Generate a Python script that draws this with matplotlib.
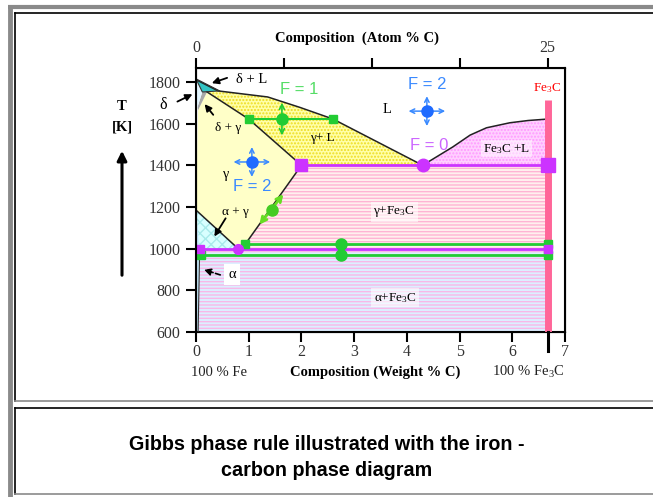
import matplotlib
matplotlib.use('Agg')
import matplotlib.pyplot as plt
from matplotlib.patches import Polygon

plt.rcParams['font.family'] = ['Liberation Serif', 'DejaVu Serif']
plt.rcParams['mathtext.fontset'] = 'custom'
plt.rcParams['mathtext.rm'] = 'Liberation Serif'
plt.rcParams['mathtext.it'] = 'Liberation Serif:italic'
plt.rcParams['mathtext.bf'] = 'Liberation Serif:bold'
plt.rcParams['hatch.linewidth'] = 1.0

# ---------------- data ----------------
x_ticks = [0, 1, 2, 3, 4, 5, 6, 7]
y_ticks = [600, 800, 1000, 1200, 1400, 1600, 1800]
top_ticks = [0, 1.667, 3.333, 5.0, 6.67]
top_tick_labels = ['0', '', '', '', '25']
x_min, x_max, y_min, y_max = 0, 7, 600, 1867

x_fe3c = 6.67
T_eutectic = 1400
T_eutectoid = 1000
T_tie_upper = 1020
T_tie_lower = 970
T_liquid_tie = 1622

liquidus_x = [0.0, 0.42, 1.36, 1.97, 2.6, 4.3]
liquidus_y = [1811, 1757, 1728, 1678, 1622, 1400]
solidus_x = [0.21, 1.0, 2.0]
solidus_y = [1752, 1622, 1400]
acm_x = [2.0, 0.93, 0.8]
acm_y = [1400, 1020, 1000]
a3_x = [0.0, 0.8]
a3_y = [1185, 1000]
fe3c_liq_x = [4.3, 4.87, 5.2, 5.51, 5.95, 6.3, 6.67]
fe3c_liq_y = [1400, 1488, 1545, 1580, 1604, 1615, 1622]

delta_L = [(0.0, 1815), (0.45, 1757), (0.12, 1752)]
delta = [(0.0, 1815), (0.12, 1752), (0.03, 1680), (0.0, 1665)]
delta_gamma = [(0.12, 1752), (0.21, 1752), (0.04, 1665), (0.03, 1680)]
alpha_strip = [(0.0, 600), (0.04, 600), (0.07, 1000), (0.03, 1110), (0.0, 1185)]

fe3c_bar_top = 1715
eutectic_x = 4.3
eutectoid_x = 0.8
tie1_x = [1.0, 1.63, 2.6]
tie_mid_x = 2.75
lower_left_x = 0.1
mid_left_x = 0.08
diag_arrow = [(1.17, 1105), (1.69, 1272)]
diag_dot = (1.44, 1186)
cross_L = (4.38, 1660)
cross_gamma = (1.06, 1416)

# ---------------- figure ----------------
W, H = 653, 497
fig = plt.figure(figsize=(W / 100, H / 100), dpi=100)

# frame overlay (pixel coordinates)
bg = fig.add_axes([0, 0, 1, 1], zorder=0)
bg.set_xlim(0, W)
bg.set_ylim(H, 0)
bg.axis('off')
gray = '#8a8a8a'
bg.plot([8, W], [6.5, 6.5], color=gray, lw=3, solid_capstyle='butt')
bg.plot([10, 10], [5, H], color=gray, lw=3.5, solid_capstyle='butt')
bg.plot([15, W], [13, 13], color='black', lw=1.2)
bg.plot([15, 15], [13, 401], color='black', lw=1.2)
bg.plot([15, W], [401, 401], color=gray, lw=1.2)
bg.plot([15, W], [408, 408], color='black', lw=1.2)
bg.plot([15, 15], [408, 494], color='black', lw=1.2)
bg.plot([15, W], [494, 494], color=gray, lw=1.2)

def P(px, py):
    return px / W, 1 - py / H

# main axes
left, right, top, bottom = 196, 565, 68, 332
ax = fig.add_axes([left / W, 1 - bottom / H, (right - left) / W, (bottom - top) / H], zorder=2)
ax.set_xlim(x_min, x_max)
ax.set_ylim(y_min, y_max)
ax.set_facecolor('white')
for s in ax.spines.values():
    s.set_linewidth(1.5)
ax.set_xticks(x_ticks)
ax.set_yticks(y_ticks)
ax.tick_params(direction='out', length=7, width=1.5, labelsize=11.5, labelcolor='#333333', pad=4)
ax.tick_params(axis='x', pad=2)

ax2 = ax.twiny()
ax2.set_xlim(x_min, x_max)
ax2.set_xticks(top_ticks)
ax2.set_xticklabels(top_tick_labels)
ax2.tick_params(direction='out', length=7, width=1.5, labelsize=11.5, labelcolor='#333333', pad=2)

# ---------------- regions ----------------
def poly(pts, fc, hatch=None, hc=None, z=1):
    p = Polygon(pts, closed=True, facecolor=fc, edgecolor=hc if hc else fc,
                hatch=hatch, lw=0, zorder=z)
    ax.add_patch(p)

# alpha + Fe3C
poly([alpha_strip[1], alpha_strip[2], (x_fe3c, T_eutectoid), (x_fe3c, y_min)],
     '#dcefff', hatch='-----', hc='#f8b8e8')
# alpha strip
poly(alpha_strip, '#c8ecff')
# alpha + gamma
poly([(a3_x[0], a3_y[0]), (a3_x[1], a3_y[1]), alpha_strip[2], alpha_strip[3]],
     '#d8ffff', hatch='xxx', hc='#a8eaea')
# gamma + Fe3C
poly(list(zip(acm_x[::-1], acm_y[::-1])) + [(x_fe3c, T_eutectic), (x_fe3c, T_eutectoid)],
     '#fff0ee', hatch='-----', hc='#ffb4d4')
# gamma
gamma_pts = [delta_gamma[2], delta_gamma[1]] + list(zip(solidus_x[1:], solidus_y[1:])) \
    + list(zip(acm_x[1:], acm_y[1:])) + list(zip(a3_x[::-1], a3_y[::-1]))
poly(gamma_pts, '#ffffc8')
# gamma + L
gl_pts = list(zip(liquidus_x[1:], liquidus_y[1:])) + list(zip(solidus_x[::-1], solidus_y[::-1]))
poly(gl_pts, '#ffffa8', hatch='.....', hc='#eedc20')
# Fe3C + L
poly(list(zip(fe3c_liq_x, fe3c_liq_y)) + [(x_fe3c, T_eutectic)], '#ffd0ff', hatch='.....', hc='#ff99ff')
# delta regions
poly(delta_L, '#33c4c4', z=3)
poly(delta_gamma, '#a8a8a8', z=3)
poly(delta, '#e4f6ff', z=3)

# ---------------- boundaries ----------------
ax.plot(liquidus_x, liquidus_y, color='#222222', lw=1.1, zorder=4)
ax.plot(solidus_x, solidus_y, color='#222222', lw=1.1, zorder=4)
ax.plot(acm_x, acm_y, color='#222222', lw=1.1, zorder=4)
ax.plot(a3_x, a3_y, color='#222222', lw=1.1, zorder=4)
ax.plot(fe3c_liq_x, fe3c_liq_y, color='#222222', lw=1.1, zorder=4)
ax.plot([p[0] for p in delta_L] + [delta_L[0][0]], [p[1] for p in delta_L] + [delta_L[0][1]],
        color='#333333', lw=0.8, zorder=4)
ax.plot([alpha_strip[1][0], alpha_strip[2][0]], [alpha_strip[1][1], alpha_strip[2][1]],
        color='#333333', lw=0.8, zorder=4)

# ---------------- lines / markers ----------------
green = '#22cc33'
mag = '#cc33ff'
ax.plot([tie1_x[0], tie1_x[2]], [T_liquid_tie] * 2, color=green, lw=1.5, zorder=5)
ax.plot([tie1_x[0], tie1_x[2]], [T_liquid_tie] * 2, 's', color=green, ms=6, zorder=6)
ax.plot(tie1_x[1], T_liquid_tie, 'o', color=green, ms=8, zorder=6)
ax.annotate('', xy=(tie1_x[1], T_liquid_tie + 92), xytext=(tie1_x[1], T_liquid_tie - 92),
            arrowprops=dict(arrowstyle='<->', color=green, lw=1.2, mutation_scale=9), zorder=6)

ax.plot([eutectoid_x + 0.13, x_fe3c], [T_tie_upper] * 2, color=green, lw=2, zorder=5)
ax.plot([lower_left_x, x_fe3c], [T_tie_lower] * 2, color=green, lw=2, zorder=5)
ax.plot([mid_left_x, x_fe3c], [T_eutectoid] * 2, color=mag, lw=2, zorder=5)
ax.plot([acm_x[0], x_fe3c], [T_eutectic] * 2, color=mag, lw=2, zorder=5)

# Fe3C bar
ax.plot([x_fe3c, x_fe3c], [y_min, fe3c_bar_top], color='#ff6699', lw=5, solid_capstyle='butt', zorder=5)

ax.plot([eutectoid_x + 0.13, x_fe3c], [T_tie_upper] * 2, 's', color=green, ms=6, zorder=7)
ax.plot([lower_left_x, x_fe3c], [T_tie_lower] * 2, 's', color=green, ms=6, zorder=7)
ax.plot([tie_mid_x, tie_mid_x], [T_tie_upper, T_tie_lower], 'o', color=green, ms=8, zorder=7)
ax.plot([mid_left_x, x_fe3c], [T_eutectoid] * 2, 's', color=mag, ms=6, zorder=7)
ax.plot(eutectoid_x, T_eutectoid, 'o', color=mag, ms=7, zorder=7)
ax.plot(acm_x[0], T_eutectic, 's', color=mag, ms=9, zorder=7)
ax.plot(x_fe3c, T_eutectic, 's', color=mag, ms=10, zorder=7)
ax.plot(eutectic_x, T_eutectic, 'o', color=mag, ms=9, zorder=7)

# diagonal lime arrow
ax.annotate('', xy=diag_arrow[1], xytext=diag_arrow[0],
            arrowprops=dict(arrowstyle='<->', color='#66dd22', lw=2, mutation_scale=10), zorder=6)
ax.plot(*diag_dot, 'o', color='#44cc22', ms=8, zorder=7)

# blue crosses
blue = '#1f6bff'
for cx, cy in (cross_L, cross_gamma):
    ax.annotate('', xy=(cx + 0.4, cy), xytext=(cx - 0.4, cy),
                arrowprops=dict(arrowstyle='<->', color='#3a8aff', lw=1.1, mutation_scale=8), zorder=6)
    ax.annotate('', xy=(cx, cy + 85), xytext=(cx, cy - 85),
                arrowprops=dict(arrowstyle='<->', color='#3a8aff', lw=1.1, mutation_scale=8), zorder=6)
    ax.plot(cx, cy, 'o', color=blue, ms=8, zorder=7)

# ---------------- labels ----------------
sans = ['Liberation Sans', 'DejaVu Sans']
ax.text(1.95, 1762, 'F = 1', color='#55dd66', fontsize=12, family=sans, ha='center', va='center', zorder=8)
ax.text(4.38, 1790, 'F = 2', color='#3a8aff', fontsize=12, family=sans, ha='center', va='center', zorder=8)
ax.text(1.06, 1300, 'F = 2', color='#3a8aff', fontsize=12, family=sans, ha='center', va='center', zorder=8)
ax.text(4.43, 1493, 'F = 0', color='#cc66ff', fontsize=12, family=sans, ha='center', va='center', zorder=8)

fs = 10.5
ax.text(1.06, 1810, 'δ + L', fontsize=fs, ha='center', va='center', zorder=8)
ax.text(3.62, 1666, 'L', fontsize=fs, ha='center', va='center', zorder=8)
ax.text(0.61, 1580, 'δ + γ', fontsize=9.5, ha='center', va='center', zorder=8)
ax.text(2.4, 1531, 'γ+ L', fontsize=9.5, ha='center', va='center', zorder=8)
ax.text(6.67, 1771, r'Fe$_3$C', color='red', fontsize=9.5, ha='center', va='center', zorder=8)
ax.text(5.89, 1479, r'Fe$_3$C +L', fontsize=9.5, ha='center', va='center', zorder=8,
        bbox=dict(facecolor='white', edgecolor='none', alpha=0.5, pad=1))
ax.text(0.57, 1354, 'γ', fontsize=10, ha='center', va='center', zorder=8)
ax.text(3.76, 1176, r'γ+Fe$_3$C', fontsize=9.5, ha='center', va='center', zorder=8,
        bbox=dict(facecolor='white', edgecolor='none', alpha=0.6, pad=2))
ax.text(0.74, 1176, 'α + γ', fontsize=9.5, ha='center', va='center', zorder=8)
ax.text(0.68, 875, 'α', fontsize=10.5, ha='center', va='center', zorder=8,
        bbox=dict(facecolor='white', edgecolor='none', pad=3))
ax.text(3.78, 764, r'α+Fe$_3$C', fontsize=9.5, ha='center', va='center', zorder=8,
        bbox=dict(facecolor='white', edgecolor='none', alpha=0.6, pad=2))
ax.text(-0.625, 1690, 'δ', fontsize=11.5, ha='center', va='center', zorder=8, clip_on=False)

arr = dict(arrowstyle='-|>', color='black', lw=1.3, mutation_scale=10)
ax.annotate('', xy=(0.25, 1790), xytext=(0.64, 1824), arrowprops=arr, zorder=9)
ax.annotate('', xy=(-0.02, 1747), xytext=(-0.4, 1700), arrowprops=arr, zorder=9, annotation_clip=False)
ax.annotate('', xy=(0.13, 1704), xytext=(0.36, 1632), arrowprops=arr, zorder=9)
ax.annotate('', xy=(0.32, 1047), xytext=(0.59, 1157), arrowprops=arr, zorder=9)
ax.annotate('', xy=(0.1, 903), xytext=(0.51, 870),
            arrowprops=dict(arrowstyle='-|>', color='black', lw=1.2, mutation_scale=10, linestyle=(0, (3, 1.5))),
            zorder=9)

# thick tick at Fe3C on bottom axis
ax.plot([x_fe3c, x_fe3c], [y_min, y_min - 90], color='black', lw=2.2, clip_on=False, zorder=9)

# outer texts
fig.text(*P(357, 38), 'Composition  (Atom % C)', fontsize=10.5, weight='bold', ha='center', va='center')
fig.text(*P(219, 372), '100 % Fe', fontsize=10.5, ha='center', va='center', color='#222222')
fig.text(*P(375, 372), 'Composition (Weight % C)', fontsize=10.5, weight='bold', ha='center', va='center')
fig.text(*P(528, 372), r'100 % Fe$_3$C', fontsize=10.5, ha='center', va='center', color='#222222')
fig.text(*P(122, 107), 'T', fontsize=10.5, weight='bold', ha='center', va='center')
fig.text(*P(122, 127), '[K]', fontsize=10.5, weight='bold', ha='center', va='center')
bg.annotate('', xy=(122, 148), xytext=(122, 278),
            arrowprops=dict(arrowstyle='-|>', color='black', lw=2.2, mutation_scale=14))

fig.text(*P(327, 444), 'Gibbs phase rule illustrated with the iron -', fontsize=14.2, weight='bold',
         family=sans, ha='center', va='center')
fig.text(*P(327, 470), 'carbon phase diagram', fontsize=14.2, weight='bold',
         family=sans, ha='center', va='center')

fig.savefig('out.png', dpi=100)
